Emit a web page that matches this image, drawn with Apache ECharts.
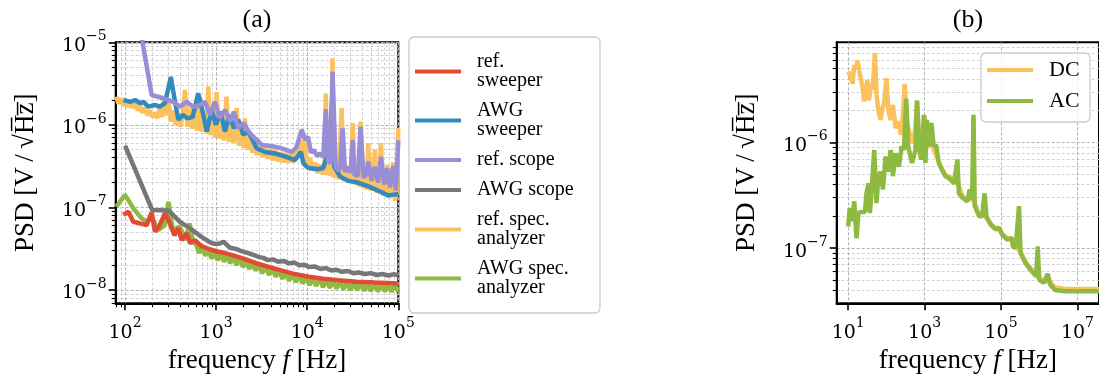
<!DOCTYPE html>
<html>
<head>
<meta charset="utf-8">
<script src="https://cdn.jsdelivr.net/npm/echarts@6/dist/echarts.min.js"></script>
<style>
html, body { margin: 0; padding: 0; background: #fff; }
#main { width: 1099px; height: 381px; }
</style>
</head>
<body>
<div id="main"></div>
<script>
// ---- panel (a): PSD of the sweeper / scope / spectrum analyzer measurements
const aFreqTicks = [1e2, 1e3, 1e4, 1e5];
const aPsdTicks = [1e-8, 1e-7, 1e-6, 1e-5];

const refSweepF = [96, 109, 123, 146, 173, 196, 213, 236, 275, 300, 348, 385, 418, 476, 516, 588, 690, 800, 900, 1000, 1250, 1500, 2000, 3000, 4500, 7000, 10000, 15000, 22000, 35000, 55000, 100000];
const refSweepV = [8.1e-8, 8.9e-8, 6.7e-8, 6.4e-8, 6.1e-8, 8.7e-8, 5.1e-8, 5.85e-8, 8.5e-8, 7.0e-8, 4.6e-8, 5.6e-8, 4.0e-8, 4.9e-8, 3.7e-8, 4.0e-8, 3.4e-8, 3.2e-8, 3.05e-8, 2.95e-8, 2.8e-8, 2.65e-8, 2.4e-8, 2.05e-8, 1.8e-8, 1.58e-8, 1.46e-8, 1.37e-8, 1.31e-8, 1.26e-8, 1.23e-8, 1.2e-8];

const awgSweepF = [96, 114, 129, 146, 159, 180, 213, 242, 275, 318, 354, 386, 430, 482, 553, 636, 712, 790, 893, 995, 1120, 1250, 1400, 1570, 1750, 1990, 2250, 2790, 3430, 4430, 5900, 7350, 8540, 9100, 10300, 13200, 15000, 16300, 17700, 18700, 19800, 23000, 28000, 36000, 47000, 60000, 77000, 100000];
const awgSweepV = [2.0e-6, 1.9e-6, 2.0e-6, 1.83e-6, 1.9e-6, 1.66e-6, 1.74e-6, 1.66e-6, 1.83e-6, 3.8e-6, 1.9e-6, 1.15e-6, 1.32e-6, 1.2e-6, 1.25e-6, 2.42e-6, 1.44e-6, 8.3e-7, 1.52e-6, 1.0e-6, 1.44e-6, 8.3e-7, 1.32e-6, 9.1e-7, 1.15e-6, 7.6e-7, 8.3e-7, 5.2e-7, 4.7e-7, 4.5e-7, 4.1e-7, 3.75e-7, 4.7e-7, 3.4e-7, 3.0e-7, 2.9e-7, 3.0e-7, 4.0e-7, 5.4e-7, 1.9e-6, 3.1e-7, 2.36e-7, 2.1e-7, 2.0e-7, 1.8e-7, 1.6e-7, 1.4e-7, 1.45e-7];

const refScopeF = [100, 196, 263, 340, 400, 476, 560, 665, 755, 855, 970, 1100, 1250, 1420, 1570, 1750, 1990, 2350, 2790, 3180, 4090, 5250, 6790, 7650, 8700, 9500, 10200, 11000, 11800, 12800, 13800, 15000, 16000, 17000, 18000, 19000, 20500, 22000, 23000, 24500, 26000, 28500, 30000, 31600, 33000, 36000, 38600, 41500, 44500, 46800, 51000, 55400, 60000, 64500, 70000, 75600, 81000, 88000, 94000, 100000];
const refScopeV = [1.7e-4, 2.3e-6, 2.1e-6, 1.9e-6, 1.66e-6, 1.9e-6, 1.66e-6, 1.74e-6, 1.9e-6, 1.32e-6, 1.9e-6, 1.2e-6, 1.52e-6, 1.1e-6, 1.44e-6, 9.1e-7, 1.05e-6, 7.9e-7, 6.6e-7, 5.7e-7, 5.5e-7, 5.2e-7, 4.7e-7, 5.4e-7, 8.7e-7, 6.6e-7, 7.2e-7, 4.6e-7, 5.0e-7, 4.2e-7, 4.5e-7, 4.1e-7, 1.55e-6, 3.75e-7, 3.4e-7, 4.4e-6, 3.1e-7, 2.8e-7, 3.0e-7, 9.1e-7, 2.7e-7, 3.1e-7, 2.6e-7, 6.6e-7, 2.5e-7, 2.4e-7, 9.5e-7, 2.3e-7, 2.5e-7, 3.6e-7, 2.1e-7, 3.1e-7, 2.0e-7, 4.1e-7, 1.9e-7, 3.0e-7, 1.75e-7, 3.2e-7, 1.6e-7, 6.5e-7];

const awgScopeF = [100, 199, 300, 400, 516, 690, 890, 1000, 1100, 1200, 1420, 1650, 1900, 2250, 2600, 3000, 3300, 3700, 4200, 4800, 5500, 6300, 7200, 8200, 9300, 10500, 12000, 14000, 16000, 18500, 21000, 24000, 28000, 32000, 37000, 43000, 50000, 58000, 67000, 78000, 90000, 100000];
const awgScopeV = [5.6e-7, 9.3e-8, 9.2e-8, 6.7e-8, 5.6e-8, 4.4e-8, 3.7e-8, 3.6e-8, 3.65e-8, 3.85e-8, 3.25e-8, 3.15e-8, 2.95e-8, 2.8e-8, 2.65e-8, 2.5e-8, 2.45e-8, 2.3e-8, 2.35e-8, 2.2e-8, 2.25e-8, 2.1e-8, 2.15e-8, 2.0e-8, 2.02e-8, 1.9e-8, 1.93e-8, 1.8e-8, 1.84e-8, 1.72e-8, 1.76e-8, 1.66e-8, 1.7e-8, 1.6e-8, 1.63e-8, 1.56e-8, 1.6e-8, 1.52e-8, 1.56e-8, 1.5e-8, 1.55e-8, 1.5e-8];

const refSpecF = [80, 85, 90, 96, 102, 108, 115, 122, 130, 138, 147, 156, 166, 176, 187, 199, 212, 225, 240, 255, 271, 288, 300, 318, 338, 360, 383, 407, 433, 455, 484, 515, 548, 583, 620, 640, 700, 745, 790, 820, 870, 925, 980, 1010, 1080, 1150, 1220, 1300, 1380, 1470, 1560, 1680, 1780, 1900, 2000, 2070, 2200, 2350, 2500, 2650, 2800, 3000, 3200, 3400, 3650, 3900, 4150, 4450, 4750, 5050, 5400, 5750, 6150, 6550, 7000, 7450, 7950, 8500, 9000, 9400, 10000, 10700, 11400, 12200, 13000, 13900, 14800, 15500, 16000, 16600, 17500, 18400, 18900, 19600, 20800, 22200, 23900, 25000, 26700, 28500, 30000, 31600, 33200, 35300, 37000, 38600, 40500, 43000, 45000, 46800, 49500, 52000, 55400, 58000, 61500, 64500, 68000, 71500, 75600, 79000, 83500, 88000, 92000, 96000, 100000];
const refSpecV = [2.2e-6, 1.8e-6, 2.1e-6, 1.7e-6, 2.0e-6, 1.65e-6, 1.9e-6, 1.6e-6, 1.85e-6, 1.5e-6, 1.7e-6, 1.4e-6, 1.6e-6, 1.3e-6, 1.5e-6, 1.25e-6, 1.4e-6, 1.2e-6, 1.6e-6, 1.25e-6, 2.0e-6, 1.3e-6, 2.1e-6, 1.1e-6, 1.5e-6, 1.0e-6, 1.3e-6, 9.5e-7, 1.4e-6, 2.65e-6, 9.5e-7, 1.6e-6, 9.0e-7, 1.3e-6, 8.5e-7, 2.2e-6, 8.3e-7, 1.4e-6, 7.8e-7, 2.9e-6, 7.5e-7, 1.2e-6, 7.0e-7, 2.5e-6, 6.8e-7, 1.1e-6, 6.5e-7, 2.2e-6, 6.2e-7, 1.0e-6, 6.0e-7, 1.6e-6, 5.6e-7, 8.5e-7, 5.3e-7, 1.2e-6, 5.0e-7, 7.0e-7, 4.6e-7, 6.3e-7, 4.3e-7, 5.8e-7, 4.1e-7, 5.4e-7, 3.9e-7, 5.1e-7, 3.7e-7, 4.9e-7, 3.6e-7, 4.7e-7, 3.5e-7, 4.6e-7, 3.45e-7, 4.5e-7, 3.5e-7, 5.0e-7, 4.0e-7, 6.5e-7, 4.3e-7, 7.0e-7, 3.3e-7, 4.0e-7, 2.8e-7, 3.5e-7, 2.6e-7, 3.3e-7, 2.5e-7, 3.2e-7, 2.4e-6, 2.45e-7, 3.2e-7, 2.4e-7, 6.4e-6, 2.3e-7, 2.9e-7, 2.2e-7, 1.6e-6, 2.1e-7, 2.7e-7, 2.0e-7, 2.6e-7, 1.05e-6, 1.9e-7, 2.4e-7, 1.8e-7, 1.1e-6, 1.75e-7, 2.2e-7, 1.65e-7, 6.0e-7, 1.6e-7, 2.0e-7, 5.0e-7, 1.5e-7, 1.9e-7, 6.0e-7, 1.4e-7, 1.8e-7, 3.3e-7, 1.3e-7, 1.7e-7, 3.5e-7, 1.2e-7, 1.55e-7, 9.2e-7];

const awgSpecF = [80, 100, 123, 150, 173, 196, 230, 270, 300, 335, 400, 460, 510, 560, 600, 650, 700, 760, 820, 890, 960, 1040, 1130, 1220, 1320, 1430, 1550, 1680, 1820, 1970, 2130, 2300, 2500, 2700, 2950, 3200, 3500, 3800, 4150, 4500, 4900, 5350, 5800, 6300, 6900, 7500, 8200, 8900, 9700, 10600, 11500, 12500, 13700, 14900, 16200, 17700, 19300, 21000, 23000, 25000, 27300, 29800, 32500, 35400, 38600, 42100, 45900, 50000, 54600, 59500, 65000, 70800, 77200, 84200, 91800, 100000];
const awgSpecV = [1.02e-7, 1.42e-7, 9.8e-8, 7.5e-8, 6.7e-8, 7.7e-8, 5.3e-8, 6.0e-8, 1.17e-7, 5.3e-8, 5.9e-8, 4.0e-8, 6.4e-8, 3.8e-8, 3.6e-8, 2.8e-8, 3.3e-8, 2.6e-8, 3.1e-8, 2.4e-8, 2.9e-8, 2.3e-8, 2.75e-8, 2.2e-8, 2.65e-8, 2.1e-8, 2.55e-8, 2.0e-8, 2.4e-8, 1.9e-8, 2.3e-8, 1.8e-8, 2.15e-8, 1.72e-8, 2.0e-8, 1.6e-8, 1.9e-8, 1.52e-8, 1.8e-8, 1.45e-8, 1.7e-8, 1.37e-8, 1.63e-8, 1.3e-8, 1.55e-8, 1.25e-8, 1.5e-8, 1.2e-8, 1.43e-8, 1.15e-8, 1.4e-8, 1.12e-8, 1.35e-8, 1.08e-8, 1.32e-8, 1.06e-8, 1.3e-8, 1.04e-8, 1.27e-8, 1.02e-8, 1.25e-8, 1.0e-8, 1.24e-8, 9.9e-9, 1.22e-8, 9.8e-9, 1.21e-8, 9.7e-9, 1.2e-8, 9.6e-9, 1.19e-8, 9.6e-9, 1.18e-8, 9.5e-9, 1.18e-8, 9.5e-9];

// ---- panel (b): DC vs AC coupling
const bFreqTicks = [1e1, 1e3, 1e5, 1e7];
const bPsdTicks = [1e-7, 1e-6];

const dcF = [10, 11, 12.3, 13, 14.4, 16, 17.5, 20, 23.6, 26, 29, 32, 35, 38, 41.6, 45, 50, 55, 62, 71, 78, 87, 100, 113, 129, 148, 174, 212, 236, 270, 300, 349, 425, 490, 560, 640, 700, 776, 900, 1000, 1150, 1320, 1500, 1730, 2000, 2350, 2860, 3500, 4700, 5700, 7800, 10000, 13200, 16700, 21000, 27000, 32000, 42000, 54000, 72000, 89000, 107000, 145000, 190000, 240000, 324000, 437000, 646000, 832000, 1000000, 1320000, 1950000, 2600000, 4800000, 10000000, 40000000];
const dcV = [4.7e-6, 4.4e-6, 3.9e-6, 3.6e-6, 5.4e-6, 5.0e-6, 6.0e-6, 4.5e-6, 3.4e-6, 2.45e-6, 3.3e-6, 3.9e-6, 2.5e-6, 3.4e-6, 3.15e-6, 3.8e-6, 7.0e-6, 2.9e-6, 1.96e-6, 1.64e-6, 2.1e-6, 2.36e-6, 4.07e-6, 2.0e-6, 1.64e-6, 2.27e-6, 1.37e-6, 1.58e-6, 1.18e-6, 1.8e-6, 3.6e-6, 1.53e-6, 1.14e-6, 9.9e-7, 1.3e-6, 2.5e-6, 1.2e-6, 7.1e-7, 8.5e-7, 1.8e-6, 9.0e-7, 9.5e-7, 1.0e-6, 8.5e-7, 7.5e-7, 6.6e-7, 5.6e-7, 4.9e-7, 4.7e-7, 4.4e-7, 3.9e-7, 3.1e-7, 2.85e-7, 3.0e-7, 2.6e-7, 2.05e-7, 2.05e-7, 1.97e-7, 1.7e-7, 1.53e-7, 1.57e-7, 1.37e-7, 1.23e-7, 1.25e-7, 1.03e-7, 9.2e-8, 7.4e-8, 6.2e-8, 5.5e-8, 5.2e-8, 4.9e-8, 4.7e-8, 4.25e-8, 4.1e-8, 4.1e-8, 4.1e-8];

const acF = [10, 11, 12.5, 14.4, 16.5, 18.6, 21, 23.6, 27.5, 30, 34, 37, 41.6, 48, 55, 62, 71, 81, 95, 113, 129, 148, 174, 212, 250, 288, 330, 370, 470, 575, 630, 725, 830, 955, 1050, 1150, 1320, 1500, 1730, 2000, 2350, 2860, 3500, 4400, 5900, 7200, 7900, 9800, 13200, 15100, 17500, 19000, 20500, 27000, 32000, 37000, 42000, 54000, 72000, 89000, 107000, 145000, 190000, 204000, 240000, 295000, 324000, 437000, 646000, 832000, 912000, 1000000, 1320000, 1660000, 1950000, 2600000, 4800000, 10000000, 40000000];
const acV = [1.6e-7, 2.4e-7, 1.8e-7, 2.77e-7, 1.24e-7, 2.15e-7, 2.2e-7, 2.15e-7, 2.2e-7, 3.3e-7, 4.1e-7, 2.15e-7, 3.8e-7, 8.5e-7, 2.67e-7, 4.8e-7, 5.3e-7, 3.6e-7, 7.4e-7, 5.3e-7, 8.5e-7, 4.8e-7, 7.9e-7, 5.9e-7, 9.2e-7, 8.5e-7, 2.6e-6, 9.2e-7, 6.4e-7, 8.5e-7, 2.5e-6, 8.5e-7, 6.9e-7, 1.83e-6, 6.4e-7, 1.64e-6, 9.2e-7, 1.53e-6, 9.2e-7, 9.5e-7, 6.4e-7, 5.5e-7, 4.8e-7, 4.6e-7, 4.1e-7, 6.9e-7, 3.3e-7, 3.0e-7, 2.77e-7, 3.6e-7, 2.9e-7, 1.83e-6, 2.5e-7, 2.0e-7, 2.0e-7, 3.3e-7, 1.93e-7, 1.66e-7, 1.5e-7, 1.55e-7, 1.34e-7, 1.2e-7, 1.24e-7, 1.04e-7, 1.0e-7, 2.5e-7, 9.0e-8, 7.2e-8, 6.0e-8, 5.4e-8, 1.04e-7, 5.0e-8, 4.7e-8, 5.7e-8, 4.5e-8, 4.0e-8, 3.9e-8, 3.9e-8, 3.9e-8];

var myChart = echarts.init(document.getElementById('main'));
const FONT = 'Liberation Serif';
const TICKFONT = 'DejaVu Serif';
const majorGrid = { color: '#b0b0b0', width: 1, type: [3, 2] };
const minorGrid = { color: '#cdcdcd', width: 0.9, type: [3, 2] };

function pairs(fs, vs) {
  return fs.map(function (f, i) { return [f, vs[i]]; });
}
function supLabel(v) {
  const e = Math.round(Math.log10(v));
  if (Math.abs(Math.log10(v) - e) > 1e-6) return '';
  return '{b|10}{s|' + (e < 0 ? '\u2212' + (-e) : e) + '}';
}
const labelRich = {
  b: { fontFamily: TICKFONT, fontSize: 19, color: '#000', lineHeight: 26, verticalAlign: 'bottom' },
  s: { fontFamily: TICKFONT, fontSize: 14, color: '#000', lineHeight: 15, verticalAlign: 'top' }
};
const nameStyle = {
  fontFamily: FONT, fontSize: 27, color: '#000',
  rich: { i: { fontFamily: FONT, fontSize: 27, fontStyle: 'italic', color: '#000' } }
};
function tickLabels(values, margin) {
  return { customValues: values, formatter: supLabel, rich: labelRich, margin: margin, fontFamily: TICKFONT, fontSize: 19, color: '#000' };
}
function majorTicks(values) {
  return { customValues: values, length: 7, lineStyle: { color: '#000', width: 1.6 } };
}

function logAxis(extra) {
  return Object.assign({
    type: 'log',
    nameLocation: 'middle',
    nameTextStyle: nameStyle,
    axisLine: { lineStyle: { color: '#000', width: 2 } },
    minorTick: { show: true, splitNumber: 9, length: 4, lineStyle: { color: '#000', width: 1.1 } },
    splitLine: { show: true, lineStyle: majorGrid },
    minorSplitLine: { show: true, lineStyle: minorGrid }
  }, extra);
}

function line(name, fs, vs, color, xi) {
  return {
    type: 'line', name: name, xAxisIndex: xi, yAxisIndex: xi,
    data: pairs(fs, vs), showSymbol: false, symbol: 'none',
    lineStyle: { color: color, width: 4.5 }, itemStyle: { color: color },
    emphasis: { disabled: true }, silent: true
  };
}

option = {
  animation: false,
  backgroundColor: '#fff',
  grid: [
    { left: 115.7, top: 42.3, width: 282.6, height: 261, show: true, borderColor: '#000', borderWidth: 2, backgroundColor: 'transparent' },
    { left: 836.7, top: 42.3, width: 264, height: 261, show: true, borderColor: '#000', borderWidth: 2, backgroundColor: 'transparent' }
  ],
  xAxis: [
    logAxis({
      gridIndex: 0, min: 79, max: 1e5,
      name: 'frequency {i|f} [Hz]', nameGap: 44,
      axisTick: majorTicks(aFreqTicks),
      axisLabel: tickLabels(aFreqTicks, 13)
    }),
    logAxis({
      gridIndex: 1, min: 5, max: 3.66e7,
      name: 'frequency {i|f} [Hz]', nameGap: 44,
      axisTick: majorTicks(bFreqTicks),
      axisLabel: tickLabels(bFreqTicks, 13),
      minorTick: { show: false },
      minorSplitLine: { show: false }
    })
  ],
  yAxis: [
    logAxis({
      gridIndex: 0, min: 6.9e-9, max: 1e-5,
      name: 'PSD [V\u2009/\u2009\u221AH\u0305z\u0305]', nameGap: 76,
      axisTick: majorTicks(aPsdTicks),
      axisLabel: tickLabels(aPsdTicks, 9)
    }),
    logAxis({
      gridIndex: 1, min: 3.0e-8, max: 8.9e-6,
      name: 'PSD [V\u2009/\u2009\u221AH\u0305z\u0305]', nameGap: 76,
      axisTick: majorTicks(bPsdTicks),
      axisLabel: tickLabels(bPsdTicks, 9)
    })
  ],
  legend: [
    {
      orient: 'vertical', left: 409, top: 37,
      padding: [15, 5, 15, 6], itemGap: 10, itemWidth: 46, itemHeight: 4, icon: 'rect',
      selectedMode: false,
      textStyle: { fontFamily: FONT, fontSize: 20, lineHeight: 19, width: 118, padding: [0, 0, 0, 11], color: '#000' },
      borderColor: '#cccccc', borderWidth: 1.3, borderRadius: 5, backgroundColor: 'rgba(255,255,255,0.8)',
      data: ['ref.\nsweeper', 'AWG\nsweeper', 'ref. scope', 'AWG scope', 'ref. spec.\nanalyzer', 'AWG spec.\nanalyzer']
    },
    {
      orient: 'vertical', left: 981, top: 53,
      padding: [6, 4, 10, 6], itemGap: 9, itemWidth: 46, itemHeight: 4, icon: 'rect',
      selectedMode: false,
      textStyle: { fontFamily: FONT, fontSize: 22, lineHeight: 20, width: 37, padding: [0, 0, 0, 11], color: '#000' },
      borderColor: '#cccccc', borderWidth: 1.3, borderRadius: 5, backgroundColor: 'rgba(255,255,255,0.8)',
      data: ['DC', 'AC']
    }
  ],
  graphic: [
    { type: 'text', x: 257, y: 20, style: { text: '(a)', font: '26px "Liberation Serif"', fill: '#000', align: 'center', verticalAlign: 'middle' } },
    { type: 'text', x: 968, y: 20, style: { text: '(b)', font: '26px "Liberation Serif"', fill: '#000', align: 'center', verticalAlign: 'middle' } }
  ],
  series: [
    line('ref. spec.\nanalyzer', refSpecF, refSpecV, '#FBC15E', 0),
    line('AWG spec.\nanalyzer', awgSpecF, awgSpecV, '#8EBA42', 0),
    line('ref.\nsweeper', refSweepF, refSweepV, '#E24A33', 0),
    line('AWG scope', awgScopeF, awgScopeV, '#777777', 0),
    line('AWG\nsweeper', awgSweepF, awgSweepV, '#348ABD', 0),
    line('ref. scope', refScopeF, refScopeV, '#988ED5', 0),
    line('DC', dcF, dcV, '#FBC15E', 1),
    line('AC', acF, acV, '#8EBA42', 1)
  ]
};

myChart.setOption(option);
</script>
</body>
</html>
